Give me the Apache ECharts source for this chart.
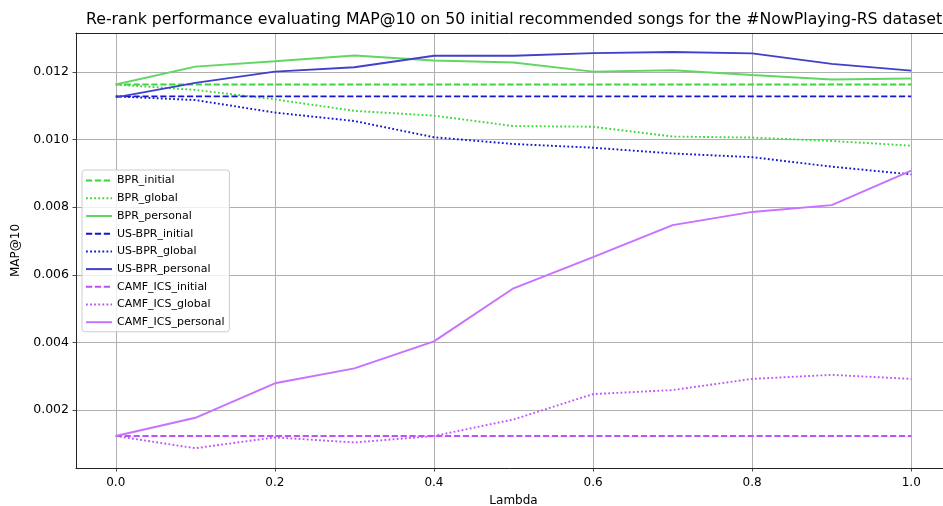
<!DOCTYPE html>
<html>
<head>
<meta charset="utf-8">
<script src="https://cdn.jsdelivr.net/npm/echarts@6/dist/echarts.min.js"></script>
<style>
  html, body { margin: 0; padding: 0; background: #fff; }
  #chart { width: 943px; height: 506px; }
</style>
</head>
<body>
<div id="chart"></div>
<script>
// Lambda values on the x axis
var lambdas = [0.0, 0.1, 0.2, 0.3, 0.4, 0.5, 0.6, 0.7, 0.8, 0.9, 1.0];
var xTicks = [0.0, 0.2, 0.4, 0.6, 0.8, 1.0];
var yTicks = [0.002, 0.004, 0.006, 0.008, 0.010, 0.012];

// MAP@10 per model and re-rank strategy
var bprInitial     = [0.01163, 0.01163, 0.01163, 0.01163, 0.01163, 0.01163, 0.01163, 0.01163, 0.01163, 0.01163, 0.01163];
var bprGlobal      = [0.01163, 0.01147, 0.01119, 0.01085, 0.01071, 0.01040, 0.01038, 0.01009, 0.01006, 0.00996, 0.00982];
var bprPersonal    = [0.01163, 0.01216, 0.01232, 0.01249, 0.01234, 0.01228, 0.01201, 0.01205, 0.01191, 0.01178, 0.01181];
var usbprInitial   = [0.01128, 0.01128, 0.01128, 0.01128, 0.01128, 0.01128, 0.01128, 0.01128, 0.01128, 0.01128, 0.01128];
var usbprGlobal    = [0.01128, 0.01117, 0.01080, 0.01055, 0.01007, 0.00987, 0.00976, 0.00959, 0.00948, 0.00920, 0.00897];
var usbprPersonal  = [0.01125, 0.01168, 0.01201, 0.01214, 0.01248, 0.01248, 0.01256, 0.01259, 0.01255, 0.01224, 0.01204];
var camfInitial    = [0.00123, 0.00123, 0.00123, 0.00123, 0.00123, 0.00123, 0.00123, 0.00123, 0.00123, 0.00123, 0.00123];
var camfGlobal     = [0.00123, 0.00087, 0.00119, 0.00104, 0.00123, 0.00172, 0.00247, 0.00259, 0.00292, 0.00304, 0.00292];
var camfPersonal   = [0.00123, 0.00177, 0.00279, 0.00323, 0.00403, 0.00560, 0.00652, 0.00747, 0.00786, 0.00806, 0.00908];

var FONT = 'DejaVu Sans';
var DASHED = [6.2, 2.7];
var DOTTED = [1.8, 2.3];

function pairs(values) {
  return lambdas.map(function (x, i) { return [x, values[i]]; });
}

function line(name, values, color, type) {
  return {
    name: name,
    type: 'line',
    data: pairs(values),
    showSymbol: false,
    symbol: 'none',
    silent: true,
    animation: false,
    lineStyle: { color: color, width: 1.9, type: type },
    itemStyle: { color: color }
  };
}

var GREEN = '#38d838', GREEN_SOLID = '#62d662';
var BLUE = '#1616d2', BLUE_SOLID = '#4040cc';
var PURPLE = '#c050ff', PURPLE_SOLID = '#c870ff';

var chart = echarts.init(document.getElementById('chart'), null, { renderer: 'canvas' });

chart.setOption({
  backgroundColor: '#ffffff',
  animation: false,
  title: {
    text: 'Re-rank performance evaluating MAP@10 on 50 initial recommended songs for the #NowPlaying-RS dataset',
    left: 81,
    top: 7,
    textStyle: { fontFamily: FONT, fontSize: 15.75, fontWeight: 'normal', color: '#000' }
  },
  grid: { left: 76, top: 33, right: -8, bottom: 38, containLabel: false, outerBoundsMode: 'none' },
  legend: {
    orient: 'vertical',
    left: 82,
    top: 170,
    itemWidth: 26,
    itemHeight: 14,
    itemGap: 6.5,
    padding: [5, 5, 4, 3],
    backgroundColor: 'rgba(255,255,255,0.8)',
    borderColor: '#cccccc',
    borderWidth: 1,
    borderRadius: 3,
    // the line sample alone, without a marker dot
    itemStyle: { opacity: 0 },
    textStyle: { fontFamily: FONT, fontSize: 11, color: '#000' },
    data: ['BPR_initial', 'BPR_global', 'BPR_personal',
           'US-BPR_initial', 'US-BPR_global', 'US-BPR_personal',
           'CAMF_ICS_initial', 'CAMF_ICS_global', 'CAMF_ICS_personal']
  },
  xAxis: [{
    type: 'value',
    min: -0.05,
    max: 1.05,
    name: 'Lambda',
    nameLocation: 'middle',
    nameGap: 27,
    nameTextStyle: { fontFamily: FONT, fontSize: 12, color: '#000' },
    axisLine: { show: true, onZero: false, lineStyle: { color: '#222', width: 1 } },
    axisTick: { show: true, length: 3.5, customValues: xTicks, lineStyle: { color: '#222', width: 0.8 } },
    axisLabel: {
      customValues: xTicks,
      margin: 9,
      fontFamily: FONT, fontSize: 12, color: '#000',
      formatter: function (v) { return v.toFixed(1); }
    },
    splitLine: { show: true, lineStyle: { color: '#b0b0b0', width: 1 } }
  }, {
    type: 'value',
    position: 'top',
    min: -0.05,
    max: 1.05,
    axisLine: { show: true, onZero: false, lineStyle: { color: '#222', width: 1 } },
    axisTick: { show: false },
    axisLabel: { show: false },
    splitLine: { show: false }
  }],
  yAxis: {
    type: 'value',
    min: 0.000284,
    max: 0.013154,
    name: 'MAP@10',
    nameLocation: 'middle',
    nameGap: 52,
    nameTextStyle: { fontFamily: FONT, fontSize: 12, color: '#000' },
    axisLine: { show: true, onZero: false, lineStyle: { color: '#222', width: 1 } },
    axisTick: { show: true, length: 3.5, customValues: yTicks, lineStyle: { color: '#222', width: 0.8 } },
    axisLabel: {
      customValues: yTicks,
      margin: 7,
      fontFamily: FONT, fontSize: 12.5, color: '#000',
      formatter: function (v) { return v.toFixed(3); }
    },
    splitLine: { show: true, lineStyle: { color: '#b0b0b0', width: 1 } }
  },
  series: [
    line('BPR_initial', bprInitial, GREEN, DASHED),
    line('BPR_global', bprGlobal, GREEN, DOTTED),
    line('BPR_personal', bprPersonal, GREEN_SOLID, 'solid'),
    line('US-BPR_initial', usbprInitial, BLUE, DASHED),
    line('US-BPR_global', usbprGlobal, BLUE, DOTTED),
    line('US-BPR_personal', usbprPersonal, BLUE_SOLID, 'solid'),
    line('CAMF_ICS_initial', camfInitial, PURPLE, DASHED),
    line('CAMF_ICS_global', camfGlobal, PURPLE, DOTTED),
    line('CAMF_ICS_personal', camfPersonal, PURPLE_SOLID, 'solid')
  ]
});
</script>
</body>
</html>
